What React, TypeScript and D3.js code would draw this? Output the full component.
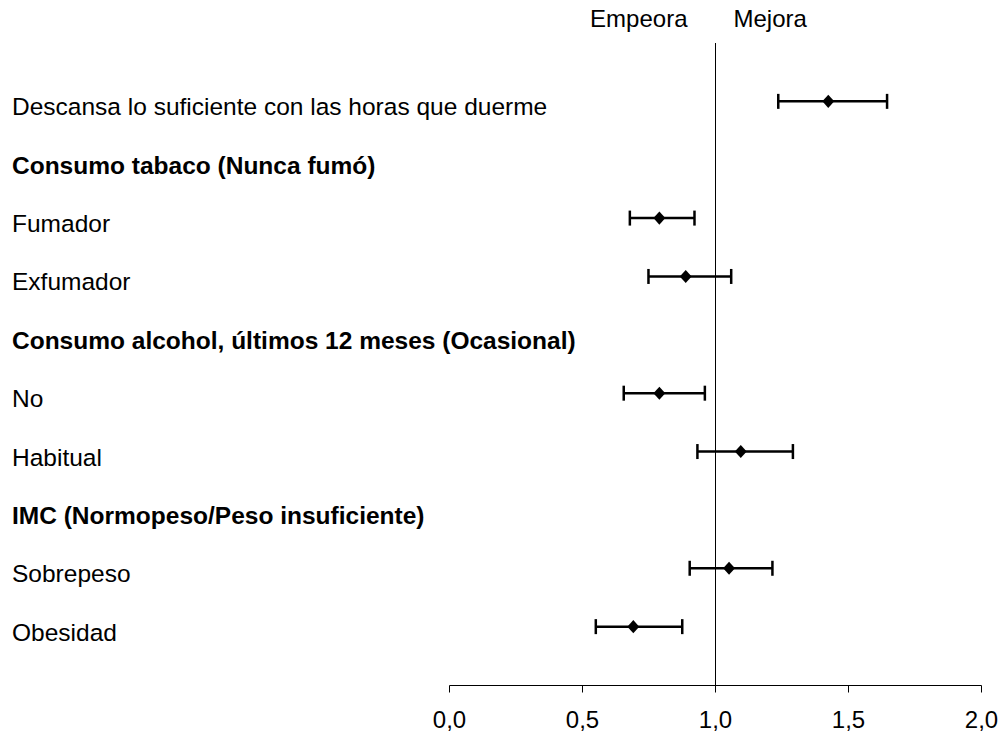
import React from "react";
import * as d3 from "d3";

// Factors (odds ratios with 95% CI); header rows carry no estimate
const labels = [
  "Descansa lo suficiente con las horas que duerme",
  "Consumo tabaco (Nunca fumó)",
  "Fumador",
  "Exfumador",
  "Consumo alcohol, últimos 12 meses (Ocasional)",
  "No",
  "Habitual",
  "IMC (Normopeso/Peso insuficiente)",
  "Sobrepeso",
  "Obesidad",
];
const isHeader = [false, true, false, false, true, false, false, true, false, false];
const estimates: (number | null)[] = [1.424, null, 0.789, 0.888, null, 0.789, 1.095, null, 1.051, 0.691];
const lowers: (number | null)[] = [1.236, null, 0.678, 0.748, null, 0.655, 0.932, null, 0.903, 0.55];
const uppers: (number | null)[] = [1.645, null, 0.921, 1.059, null, 0.96, 1.291, null, 1.214, 0.875];
const ticks = [0, 0.5, 1, 1.5, 2];

const W = 1001;
const H = 734;
const FONT = "'Liberation Sans', Arial, Helvetica, sans-serif";

export default function App() {
  const x = d3.scaleLinear().domain([0, 2]).range([449.5, 981.5]);
  const y = d3.scalePoint<string>().domain(labels).range([43, 685]).padding(1);
  const axisY = 685.5;
  const fmt = (v: number) => d3.format(".1f")(v).replace(".", ",");
  const diamond = d3.symbol().type(d3.symbolDiamond2).size(90)();

  return (
    <svg
      width={W}
      height={H}
      style={{ position: "absolute", left: 0, top: 0, background: "#fff" }}
      fontFamily={FONT}
    >
      {/* reference line at OR = 1 */}
      <line x1={x(1)} x2={x(1)} y1={43} y2={axisY} stroke="#000" strokeWidth={1} />
      <text x={x(1) - 28} y={27} fontSize={24} textAnchor="end" fill="#000">Empeora</text>
      <text x={x(1) + 18} y={27} fontSize={24} textAnchor="start" fill="#000">Mejora</text>

      {/* x axis */}
      <line x1={x(0)} x2={x(2)} y1={axisY} y2={axisY} stroke="#000" strokeWidth={1} />
      {ticks.map((t) => (
        <g key={t}>
          <line x1={x(t)} x2={x(t)} y1={axisY} y2={axisY + 7} stroke="#000" strokeWidth={1} />
          <text x={x(t)} y={axisY + 42} fontSize={24} textAnchor="middle" fill="#000">
            {fmt(t)}
          </text>
        </g>
      ))}

      {/* row labels */}
      {labels.map((l, i) => (
        <text
          key={l}
          x={12}
          y={(y(l) as number) + 14}
          fontSize={24.5}
          fontWeight={isHeader[i] ? "bold" : "normal"}
          fill="#000"
        >
          {l}
        </text>
      ))}

      {/* estimates and confidence intervals */}
      {labels.map((l, i) => {
        const e = estimates[i];
        const lo = lowers[i];
        const hi = uppers[i];
        if (e == null || lo == null || hi == null) return null;
        const yy = y(l) as number;
        return (
          <g key={"m" + l}>
            <line x1={x(lo)} x2={x(hi)} y1={yy} y2={yy} stroke="#000" strokeWidth={2.5} />
            <line x1={x(lo)} x2={x(lo)} y1={yy - 7.5} y2={yy + 7.5} stroke="#000" strokeWidth={2.5} />
            <line x1={x(hi)} x2={x(hi)} y1={yy - 7.5} y2={yy + 7.5} stroke="#000" strokeWidth={2.5} />
            <path
              d={diamond as string}
              transform={`translate(${x(e)},${yy}) scale(1,1.1)`}
              fill="#000"
            />
          </g>
        );
      })}
    </svg>
  );
}
